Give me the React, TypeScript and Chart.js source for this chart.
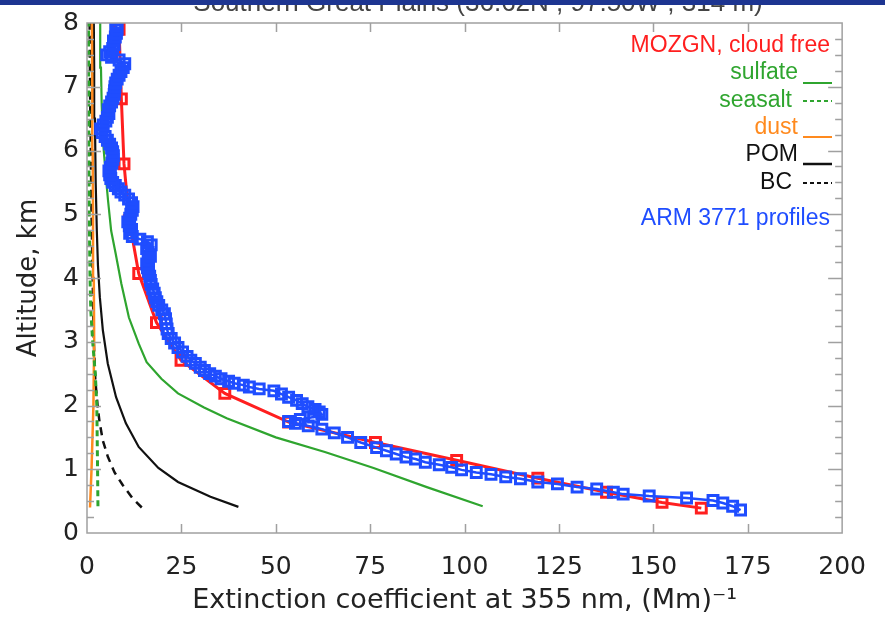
import React, { useEffect, useRef } from "react";
import { Chart, registerables } from "chart.js";
Chart.register(...registerables);

// ---------- data ----------
const xTickValues = [0, 25, 50, 75, 100, 125, 150, 175, 200];
const yTickValues = [0, 1, 2, 3, 4, 5, 6, 7, 8];
const titleText = "Southern Great Plains (36.62N , 97.50W , 314 m)";

const mozgnAlt = [0.39, 0.48, 0.64, 0.86, 1.14, 1.42, 1.74, 2.19, 2.71, 3.3, 4.07, 4.9, 5.79, 6.81, 7.9];
const mozgnExt = [162.7, 152.3, 137.6, 119.4, 97.9, 76.4, 53.4, 36.5, 24.9, 18.4, 13.7, 11.2, 9.8, 9.1, 8.5];

const sulfateAlt = [0.42, 0.72, 1.02, 1.27, 1.5, 1.8, 1.97, 2.19, 2.42, 2.68, 2.97, 3.38, 3.91, 4.38, 4.74, 5.2, 5.52, 6.1, 6.7, 7.3, 8.0];
const sulfateExt = [104.8, 90.0, 75.9, 63.0, 50.0, 37.0, 31.0, 24.1, 19.7, 15.8, 13.7, 11.1, 9.1, 7.6, 6.4, 5.6, 5.1, 4.3, 3.9, 3.7, 3.5];

const seasaltAlt = [0.42, 1.0, 2.0, 2.5, 3.0, 3.5, 4.0, 5.0, 6.0, 7.0, 8.0];
const seasaltExt = [2.9, 2.8, 2.6, 2.2, 1.5, 1.0, 0.8, 0.6, 0.5, 0.45, 0.4];

const dustAlt = [0.4, 1.0, 2.0, 3.0, 4.0, 5.0, 6.0, 7.0, 8.0];
const dustExt = [0.8, 1.2, 1.7, 1.9, 1.8, 1.6, 1.5, 1.4, 1.3];

const pomAlt = [0.41, 0.57, 0.8, 1.02, 1.35, 1.72, 2.13, 2.66, 3.18, 3.7, 4.2, 4.74, 5.5, 6.5, 7.3, 8.0];
const pomExt = [40.1, 32.7, 24.1, 18.9, 13.7, 10.3, 7.7, 5.5, 4.2, 3.4, 2.9, 2.6, 2.3, 2.1, 1.9, 1.8];

const bcAlt = [0.4, 0.55, 0.75, 0.95, 1.2, 1.45, 1.75, 2.0, 2.4, 3.0, 4.0, 5.0, 6.0, 7.0, 8.0];
const bcExt = [14.5, 12.0, 9.5, 7.3, 5.5, 4.2, 3.3, 2.8, 2.2, 1.8, 1.5, 1.2, 1.0, 0.8, 0.7];

const armAlt = [
  0.36, 0.42, 0.47, 0.51, 0.55, 0.58, 0.61, 0.64, 0.69, 0.72, 0.77, 0.8, 0.85, 0.88, 0.92, 0.95,
  0.99, 1.03, 1.07, 1.11, 1.16, 1.19, 1.24, 1.29, 1.34, 1.42, 1.5, 1.57, 1.63, 1.68, 1.72, 1.75,
  1.78, 1.82, 1.86, 1.9, 1.94, 1.98, 2.03, 2.08, 2.13, 2.18, 2.23, 2.26, 2.29, 2.32, 2.35, 2.38,
  2.42, 2.46, 2.5, 2.55, 2.6, 2.66, 2.71, 2.77, 2.84, 2.91, 2.98, 3.05, 3.13, 3.2, 3.28, 3.36,
  3.44, 3.5, 3.57, 3.63, 3.69, 3.76, 3.83, 3.9, 3.96, 4.03, 4.1, 4.16, 4.22, 4.28, 4.34, 4.4,
  4.46, 4.52, 4.57, 4.61, 4.65, 4.7, 4.76, 4.82, 4.88, 4.94, 5.0, 5.06, 5.12, 5.18, 5.24, 5.3,
  5.35, 5.4, 5.45, 5.5, 5.56, 5.62, 5.68, 5.74, 5.8, 5.86, 5.92, 5.98, 6.04, 6.1, 6.16, 6.22,
  6.28, 6.34, 6.4, 6.46, 6.52, 6.58, 6.64, 6.7, 6.76, 6.82, 6.88, 6.94, 7.0, 7.06, 7.12, 7.18,
  7.24, 7.3, 7.36, 7.42, 7.46, 7.5, 7.55, 7.6, 7.66, 7.72, 7.78, 7.84, 7.9, 7.96, 8.0,
];
const armExt = [
  173.1, 171.0, 168.4, 165.8, 158.8, 148.9, 142.0, 139.4, 135.0, 129.8, 124.6, 119.4, 114.8, 110.9, 107.0, 103.1,
  99.2, 96.6, 93.3, 89.6, 87.0, 84.5, 81.9, 79.3, 76.7, 72.5, 69.0, 65.5, 62.2, 58.6, 55.2, 53.4,
  56.5, 60.0, 62.2, 61.5, 60.4, 58.5, 57.0, 55.5, 53.4, 51.5, 49.5, 45.6, 43.0, 41.4, 39.0, 37.5,
  35.5, 34.0, 32.5, 31.1, 30.0, 28.7, 27.5, 26.5, 25.3, 24.1, 23.2, 22.3, 21.5, 21.2, 21.0, 20.8,
  20.5, 19.8, 19.0, 18.5, 18.1, 17.8, 17.4, 17.0, 16.8, 16.6, 16.3, 16.0, 15.8, 16.3, 16.8, 16.2,
  15.8, 17.0, 16.0, 14.0, 12.0, 11.3, 11.8, 11.2, 10.8, 11.3, 11.6, 12.0, 12.2, 11.8, 11.0, 10.0,
  9.0, 8.3, 7.5, 6.8, 6.3, 6.0, 5.8, 6.2, 6.6, 6.9, 7.0, 6.8, 6.5, 6.0, 5.4, 4.8,
  4.0, 3.6, 4.3, 5.0, 5.4, 5.8, 5.6, 6.0, 6.5, 6.9, 7.2, 7.3, 7.4, 7.6, 8.0, 8.5,
  9.0, 9.6, 10.0, 8.5, 6.5, 5.2, 6.0, 6.8, 7.2, 7.0, 7.5, 7.8, 8.0, 7.6, 7.8,
];

// ---------- styles ----------
const RED = "#ff1f1f";
const GREEN = "#2fa52f";
const ORANGE = "#ff8a1e";
const BLUE = "#1f4dff";
const BLACK = "#111111";

const pts = (xs: number[], ys: number[]) => xs.map((x, i) => ({ x, y: ys[i] }));

const framePlugin = {
  id: "frameTicks",
  afterDatasetsDraw(chart: any) {
    const { ctx, chartArea: a, scales } = chart;
    const xs = scales.x;
    const ys = scales.y;
    ctx.save();
    ctx.strokeStyle = "#a0a0a0";
    ctx.lineWidth = 1.5;
    ctx.strokeRect(a.left, a.top, a.right - a.left, a.bottom - a.top);
    ctx.beginPath();
    xTickValues.forEach((v) => {
      if (v === xTickValues[0] || v === xTickValues[xTickValues.length - 1]) return;
      const px = Math.round(xs.getPixelForValue(v)) + 0.5;
      ctx.moveTo(px, a.bottom);
      ctx.lineTo(px, a.bottom - 9);
      ctx.moveTo(px, a.top);
      ctx.lineTo(px, a.top + 9);
    });
    for (let i = 1; i < (yTickValues.length - 1) * 4; i++) {
      const v = i / 4;
      const py = Math.round(ys.getPixelForValue(v)) + 0.5;
      const len = i % 4 === 0 ? 14 : 7;
      ctx.moveTo(a.left, py);
      ctx.lineTo(a.left + len, py);
      ctx.moveTo(a.right, py);
      ctx.lineTo(a.right - len, py);
    }
    ctx.stroke();
    ctx.restore();
  },
};

const legendRows = [
  { text: "MOZGN, cloud free", color: RED, y: 46, right: 830, sample: null },
  { text: "sulfate", color: GREEN, y: 73, right: 798, sample: { dash: [], width: 2, y: 83 } },
  { text: "seasalt", color: GREEN, y: 101, right: 792, sample: { dash: [4, 3], width: 2, y: 101 } },
  { text: "dust", color: ORANGE, y: 128, right: 798, sample: { dash: [], width: 2, y: 137 } },
  { text: "POM", color: BLACK, y: 155, right: 798, sample: { dash: [], width: 2.5, y: 164 } },
  { text: "BC", color: BLACK, y: 183, right: 792, sample: { dash: [4, 3], width: 2, y: 183 } },
  { text: "ARM 3771 profiles", color: BLUE, y: 219, right: 830, sample: null },
];

const overlayPlugin = {
  id: "overlay",
  afterDraw(chart: any) {
    const { ctx } = chart;
    ctx.save();
    ctx.font = '23px "Liberation Sans", Arial, sans-serif';
    ctx.textAlign = "right";
    ctx.textBaseline = "middle";
    legendRows.forEach((r) => {
      ctx.fillStyle = r.color;
      ctx.fillText(r.text, r.right, r.y);
      if (r.sample) {
        ctx.strokeStyle = r.color;
        ctx.lineWidth = r.sample.width;
        ctx.setLineDash(r.sample.dash);
        ctx.beginPath();
        ctx.moveTo(803, r.sample.y);
        ctx.lineTo(832, r.sample.y);
        ctx.stroke();
        ctx.setLineDash([]);
      }
    });
    // cropped title + top band
    ctx.fillStyle = "#444";
    ctx.textAlign = "center";
    ctx.textBaseline = "alphabetic";
    ctx.font = '26px "Liberation Sans", Arial, sans-serif';
    ctx.fillText(titleText, 478, 11);
    ctx.fillStyle = "#1d3591";
    ctx.fillRect(0, 0, 885, 5);
    ctx.restore();
  },
};

export default function App() {
  const ref = useRef<HTMLCanvasElement>(null);
  useEffect(() => {
    if (!ref.current) return;
    const tickFont = { family: '"DejaVu Sans", sans-serif', size: 25 };
    const chart = new Chart(ref.current, {
      type: "scatter",
      data: {
        datasets: [
          {
            label: "ARM 3771 profiles",
            data: pts(armExt, armAlt),
            showLine: true,
            borderColor: BLUE,
            borderWidth: 2.5,
            pointStyle: "rect",
            pointRadius: 7,
            pointBorderWidth: 3,
            pointBorderColor: BLUE,
            pointBackgroundColor: "rgba(255,255,255,0)",
          },
          {
            label: "MOZGN, cloud free",
            data: pts(mozgnExt, mozgnAlt),
            showLine: true,
            borderColor: RED,
            borderWidth: 3,
            pointStyle: "rect",
            pointRadius: 7,
            pointBorderWidth: 3,
            pointBorderColor: RED,
            pointBackgroundColor: "rgba(255,255,255,0)",
          },
          { label: "sulfate", data: pts(sulfateExt, sulfateAlt), showLine: true, borderColor: GREEN, borderWidth: 2.2, pointRadius: 0 },
          { label: "seasalt", data: pts(seasaltExt, seasaltAlt), showLine: true, borderColor: GREEN, borderWidth: 3, borderDash: [6, 4], pointRadius: 0 },
          { label: "dust", data: pts(dustExt, dustAlt), showLine: true, borderColor: ORANGE, borderWidth: 2.5, pointRadius: 0 },
          { label: "POM", data: pts(pomExt, pomAlt), showLine: true, borderColor: BLACK, borderWidth: 2.2, pointRadius: 0 },
          { label: "BC", data: pts(bcExt, bcAlt), showLine: true, borderColor: BLACK, borderWidth: 2.5, borderDash: [8, 6], pointRadius: 0 },
        ],
      },
      options: {
        animation: false,
        responsive: false,
        layout: { padding: { top: 22, right: 26, left: 0, bottom: 0 } },
        plugins: { legend: { display: false }, tooltip: { enabled: false }, title: { display: false } },
        scales: {
          x: {
            type: "linear",
            position: "bottom",
            min: 0,
            max: 200,
            afterBuildTicks: (s: any) => { s.ticks = xTickValues.map((v) => ({ value: v })); },
            afterFit: (s: any) => { s.height = 87; },
            grid: { display: false, drawTicks: false },
            border: { display: false },
            ticks: { font: tickFont, color: "#222", padding: 19, maxRotation: 0, autoSkip: false },
            title: {
              display: true,
              text: "Extinction coefficient at 355 nm, (Mm)⁻¹",
              font: { family: '"DejaVu Sans", sans-serif', size: 27 },
              color: "#222",
              padding: { top: 0, bottom: 3 },
            },
          },
          y: {
            type: "linear",
            min: 0,
            max: 8,
            afterBuildTicks: (s: any) => { s.ticks = yTickValues.map((v) => ({ value: v })); },
            afterFit: (s: any) => { s.width = 87; },
            grid: { display: false, drawTicks: false },
            border: { display: false },
            ticks: { font: tickFont, color: "#222", padding: 8 },
            title: {
              display: true,
              text: "Altitude, km",
              font: { family: '"DejaVu Sans", sans-serif', size: 26 },
              color: "#222",
              padding: { top: 14, bottom: 0 },
            },
          },
        },
      },
      plugins: [framePlugin, overlayPlugin],
    } as any);
    return () => chart.destroy();
  }, []);
  return (
    <div style={{ position: "absolute", left: 0, top: 0, width: 885, height: 620, background: "#fff" }}>
      <canvas ref={ref} width={885} height={620} />
    </div>
  );
}
